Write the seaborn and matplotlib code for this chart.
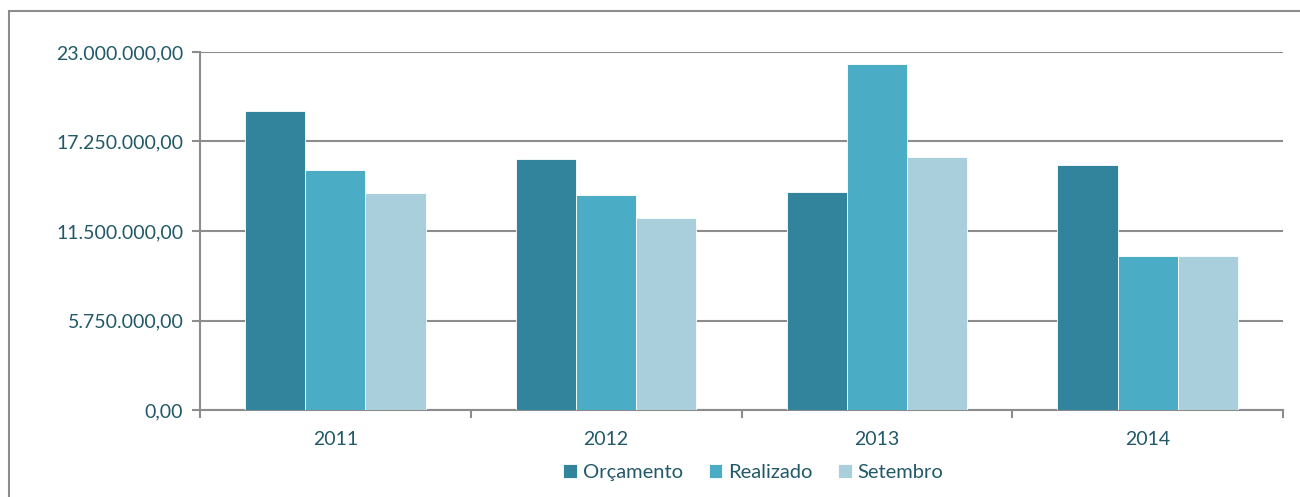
import numpy as np
import pandas as pd
import seaborn as sns
import matplotlib.pyplot as plt
from matplotlib.patches import Rectangle
from matplotlib.ticker import FuncFormatter

# data
anos = ['2011', '2012', '2013', '2014']
orcamento = [19.2e6, 16.1e6, 14.0e6, 15.75e6]
realizado = [15.4e6, 13.8e6, 22.2e6, 9.9e6]
setembro = [13.95e6, 12.35e6, 16.25e6, 9.9e6]
series = ['Orçamento', 'Realizado', 'Setembro']
cores = ['#31849b', '#4bacc6', '#a9cfdc']

df = pd.DataFrame({'ano': anos * 3,
                   'serie': np.repeat(series, len(anos)),
                   'valor': orcamento + realizado + setembro})

sns.set_style('white')
plt.rcParams['font.family'] = ['Lato', 'DejaVu Sans']
txt = '#215968'
cinza = '#8c8c8c'

fig = plt.figure(figsize=(13, 4.97), dpi=100)
ax = fig.add_axes([200/1300, 1 - 410/497, 1083/1300, 358/497])

sns.barplot(data=df, x='ano', y='valor', hue='serie', palette=cores,
            saturation=1, width=0.667, edgecolor='white', linewidth=0.6,
            ax=ax, zorder=3)

ax.set_ylim(0, 23e6)
ax.set_xlim(-0.5, 3.5)
ax.set_yticks([0, 5.75e6, 11.5e6, 17.25e6, 23e6])

def fmt(v, pos):
    s = '{:,.2f}'.format(v)
    return s.replace(',', 'X').replace('.', ',').replace('X', '.')

ax.yaxis.set_major_formatter(FuncFormatter(fmt))
ax.grid(axis='y', color=cinza, linewidth=1.5, zorder=0)
ax.set_axisbelow(True)
ax.set_xlabel('')
ax.set_ylabel('')

for s in ['top', 'right']:
    ax.spines[s].set_visible(False)
for s in ['left', 'bottom']:
    ax.spines[s].set_color(cinza)
    ax.spines[s].set_linewidth(1.5)

ax.tick_params(axis='y', left=True, length=6, width=1.5, color=cinza,
               labelsize=14, labelcolor=txt, pad=6)
ax.tick_params(axis='x', bottom=False, length=0, labelsize=14,
               labelcolor=txt, pad=15)
ax.set_xticks([-0.5, 0.5, 1.5, 2.5, 3.5], minor=True)
ax.tick_params(axis='x', which='minor', bottom=True, length=6, width=1.5,
               color=cinza)

ax.legend(loc='center', bbox_to_anchor=(0.511, -0.175), ncol=3,
          frameon=False, fontsize=14.5, handlelength=0.65, handleheight=0.65,
          handletextpad=0.3, columnspacing=1.3, labelcolor=txt)

# outer chart border
fig.patches.append(Rectangle((9/1300, -0.1), 1.2, 1 - 11/497 + 0.1,
                             transform=fig.transFigure, fill=False,
                             edgecolor=cinza, linewidth=1.5))

fig.savefig('out.png', dpi=100)
